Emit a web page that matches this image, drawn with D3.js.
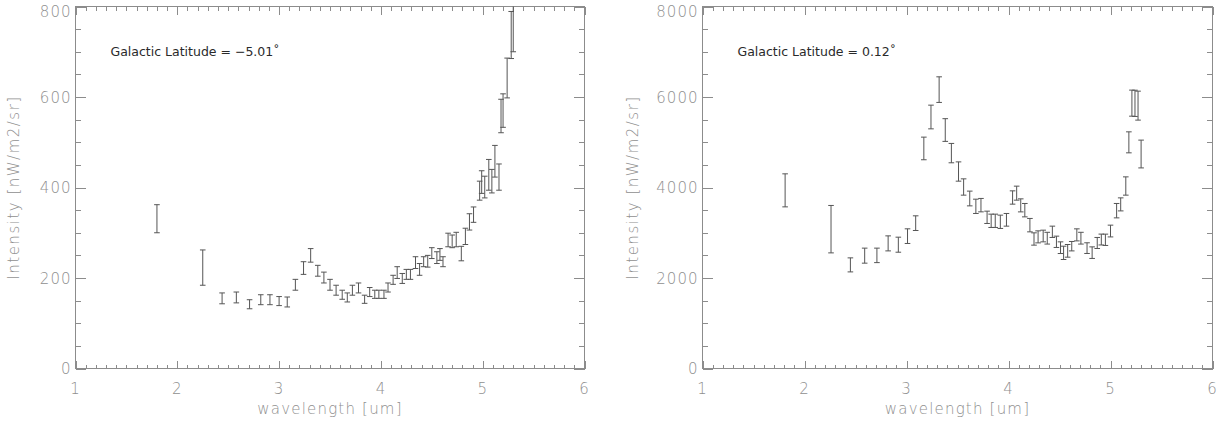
<!DOCTYPE html>
<html>
<head>
<meta charset="utf-8">
<script src="https://cdn.jsdelivr.net/npm/d3@7"></script>
<style>
    body { margin: 0; background: #fff; }
    svg text { font-family: "DejaVu Sans", sans-serif; }
</style>
</head>
<body>
<div id="chart"></div>
<script>
//Spectrum data, left panel (b = -5.01)
var leftWave = [1.80, 2.25, 2.44, 2.58, 2.71, 2.82, 2.91, 3.00, 3.08, 3.16, 3.24, 3.31, 3.38, 3.44, 3.50, 3.56,
    3.62, 3.67, 3.72, 3.78, 3.84, 3.89, 3.94, 3.98, 4.03, 4.07, 4.12, 4.16, 4.21, 4.25, 4.29, 4.34, 4.38, 4.42,
    4.46, 4.50, 4.55, 4.58, 4.61, 4.66, 4.70, 4.74, 4.79, 4.83, 4.87, 4.91, 4.97, 4.99, 5.02, 5.06, 5.09, 5.12,
    5.16, 5.18, 5.20, 5.24, 5.28, 5.30];
var leftIntensity = [331, 223, 155, 157, 142, 152, 152, 149, 147, 185, 222, 250, 216, 201, 185, 173,
    163, 157, 173, 178, 153, 169, 164, 164, 164, 179, 196, 212, 199, 208, 208, 234, 219, 236,
    237, 255, 245, 252, 236, 284, 281, 285, 254, 292, 324, 340, 393, 412, 401, 428, 414, 458,
    423, 558, 570, 642, 737, 850];
var leftError = [31, 39, 12, 12, 10, 11, 11, 10, 11, 12, 14, 15, 12, 12, 12, 11,
    10, 10, 11, 11, 9, 10, 9, 9, 9, 10, 10, 13, 11, 11, 11, 13, 13, 11,
    13, 12, 13, 13, 11, 15, 14, 16, 16, 18, 18, 17, 21, 25, 24, 34, 26, 35,
    29, 37, 37, 44, 52, 150];

//Spectrum data, right panel (b = 0.12)
var rightWave = [1.81, 2.26, 2.45, 2.59, 2.71, 2.82, 2.92, 3.01, 3.09, 3.17, 3.24, 3.32, 3.38, 3.44, 3.51,
    3.56, 3.62, 3.68, 3.73, 3.79, 3.83, 3.87, 3.92, 3.98, 4.04, 4.08, 4.12, 4.16, 4.21, 4.25, 4.29,
    4.34, 4.38, 4.43, 4.47, 4.51, 4.54, 4.58, 4.62, 4.67, 4.71, 4.77, 4.82, 4.87, 4.91, 4.95, 5.00,
    5.06, 5.10, 5.15, 5.18, 5.21, 5.24, 5.27, 5.30];
var rightIntensity = [3937, 3079, 2290, 2494, 2500, 2765, 2736, 2925, 3212, 4863, 5558, 6163, 5270, 4760, 4353,
    4011, 3757, 3584, 3610, 3341, 3264, 3264, 3242, 3286, 3779, 3875, 3605, 3499, 3168, 2862, 2909,
    2928, 2880, 3021, 2800, 2670, 2556, 2600, 2703, 2953, 2880, 2660, 2560, 2774, 2850, 2844, 3038,
    3488, 3627, 4033, 4998, 5864, 5860, 5809, 4740];
var rightError = [365, 524, 155, 166, 160, 166, 166, 162, 162, 250, 262, 283, 251, 214, 213,
    180, 163, 158, 148, 136, 147, 147, 147, 140, 147, 155, 144, 148, 148, 136, 133,
    129, 130, 125, 125, 129, 147, 140, 104, 133, 130, 118, 128, 122, 120, 125, 130,
    159, 144, 202, 232, 288, 290, 320, 307];

var xTicks = [1, 2, 3, 4, 5, 6];
var leftYTicks = [0, 200, 400, 600, 800];
var rightYTicks = [0, 2000, 4000, 6000, 8000];

var svgWidth = 1217;
var svgHeight = 422;
var axisColor = "#8c8c8c";
var textColor = "#8f8f8f";
var barColor = "#555";

var svg = d3.select("#chart")
    .append("svg")
    .attr("width", svgWidth)
    .attr("height", svgHeight);

function drawPanel(opts) {
    var x = d3.scaleLinear().domain([1, 6]).range([opts.left, opts.right]);
    var y = d3.scaleLinear().domain([0, opts.yMax]).range([opts.bottom, opts.top]);
    var g = svg.append("g");

    var clipId = "clip-" + opts.id;
    svg.append("clipPath").attr("id", clipId)
        .append("rect")
        .attr("x", opts.left).attr("y", opts.top)
        .attr("width", opts.right - opts.left).attr("height", opts.bottom - opts.top);

    // inward ticks on all four sides (IDL style)
    var xMinor = d3.range(1, 6.001, 0.1);
    var yMinor = d3.range(0, opts.yMax + 1, opts.yMax / 16);

    var axes = [
        [d3.axisBottom(x).tickValues(xTicks).tickSize(-8), 0, opts.bottom],
        [d3.axisBottom(x).tickValues(xMinor).tickSize(-4), 0, opts.bottom],
        [d3.axisTop(x).tickValues(xTicks).tickSize(-8), 0, opts.top],
        [d3.axisTop(x).tickValues(xMinor).tickSize(-4), 0, opts.top],
        [d3.axisLeft(y).tickValues(opts.yTicks).tickSize(-10.5), opts.left, 0],
        [d3.axisLeft(y).tickValues(yMinor).tickSize(-5.5), opts.left, 0],
        [d3.axisRight(y).tickValues(opts.yTicks).tickSize(-10.5), opts.right, 0],
        [d3.axisRight(y).tickValues(yMinor).tickSize(-5.5), opts.right, 0]
    ];
    axes.forEach(function (a) {
        var ax = g.append("g")
            .attr("transform", "translate(" + a[1] + "," + a[2] + ")")
            .call(a[0].tickFormat(""));
        ax.select(".domain").remove();
        ax.selectAll("line").attr("stroke", axisColor).attr("shape-rendering", "crispEdges");
    });

    g.append("rect")
        .attr("x", opts.left).attr("y", opts.top)
        .attr("width", opts.right - opts.left).attr("height", opts.bottom - opts.top)
        .attr("fill", "none").attr("stroke", axisColor)
        .attr("shape-rendering", "crispEdges");

    // tick labels
    g.selectAll("text.xlab")
        .data(xTicks)
        .enter()
        .append("text")
        .attr("class", "xlab")
        .attr("x", function (d) { return x(d); })
        .attr("y", opts.bottom + 25)
        .attr("text-anchor", "middle")
        .attr("font-size", "15px")
        .attr("font-weight", 300)
        .attr("letter-spacing", "1px")
        .attr("fill", textColor)
        .text(function (d) { return d; });

    // top label is pushed down so it stays inside the page, as in the original
    g.selectAll("text.ylab")
        .data(opts.yTicks)
        .enter()
        .append("text")
        .attr("class", "ylab")
        .attr("x", opts.left - 4)
        .attr("y", function (d) { return Math.max(y(d) + 5.5, 17); })
        .attr("text-anchor", "end")
        .attr("font-size", "15px")
        .attr("font-weight", 300)
        .attr("letter-spacing", "1px")
        .attr("fill", textColor)
        .text(function (d) { return d; });

    // axis titles
    g.append("text")
        .attr("x", (opts.left + opts.right) / 2)
        .attr("y", opts.bottom + 45)
        .attr("text-anchor", "middle")
        .attr("font-size", "15px")
        .attr("font-weight", 300)
        .attr("letter-spacing", "1.2px")
        .attr("fill", textColor)
        .text("wavelength [um]");

    g.append("text")
        .attr("transform", "translate(" + (opts.left - opts.titleOffset) + "," + ((opts.top + opts.bottom) / 2) + ") rotate(-90)")
        .attr("text-anchor", "middle")
        .attr("font-size", "15px")
        .attr("font-weight", 300)
        .attr("letter-spacing", "1.5px")
        .attr("fill", textColor)
        .text("Intensity [nW/m2/sr]");

    // annotation
    g.append("text")
        .attr("x", opts.left + 35)
        .attr("y", opts.top + 49)
        .attr("font-size", "12.5px")
        .attr("fill", "#2a2a2a")
        .text(opts.label);

    // error bars
    var bars = g.append("g")
        .attr("clip-path", "url(#" + clipId + ")")
        .selectAll("g.bar")
        .data(opts.wave)
        .enter()
        .append("g")
        .attr("class", "bar");

    var capW = 2.8;
    bars.append("line")
        .attr("x1", function (d) { return x(d); })
        .attr("x2", function (d) { return x(d); })
        .attr("y1", function (d, i) { return y(opts.values[i] + opts.errors[i]); })
        .attr("y2", function (d, i) { return y(opts.values[i] - opts.errors[i]); })
        .attr("stroke", barColor);
    bars.append("line")
        .attr("x1", function (d) { return x(d) - capW; })
        .attr("x2", function (d) { return x(d) + capW; })
        .attr("y1", function (d, i) { return y(opts.values[i] + opts.errors[i]); })
        .attr("y2", function (d, i) { return y(opts.values[i] + opts.errors[i]); })
        .attr("stroke", barColor);
    bars.append("line")
        .attr("x1", function (d) { return x(d) - capW; })
        .attr("x2", function (d) { return x(d) + capW; })
        .attr("y1", function (d, i) { return y(opts.values[i] - opts.errors[i]); })
        .attr("y2", function (d, i) { return y(opts.values[i] - opts.errors[i]); })
        .attr("stroke", barColor);
}

drawPanel({
    id: "left", left: 75.5, right: 584.5, top: 6.5, bottom: 368.5,
    yMax: 800, yTicks: leftYTicks, titleOffset: 57,
    wave: leftWave, values: leftIntensity, errors: leftError,
    label: "Galactic Latitude = \u22125.01\u02da"
});

drawPanel({
    id: "right", left: 702.5, right: 1212.5, top: 6.5, bottom: 368.5,
    yMax: 8000, yTicks: rightYTicks, titleOffset: 65,
    wave: rightWave, values: rightIntensity, errors: rightError,
    label: "Galactic Latitude = 0.12\u02da"
});
</script>
</body>
</html>
